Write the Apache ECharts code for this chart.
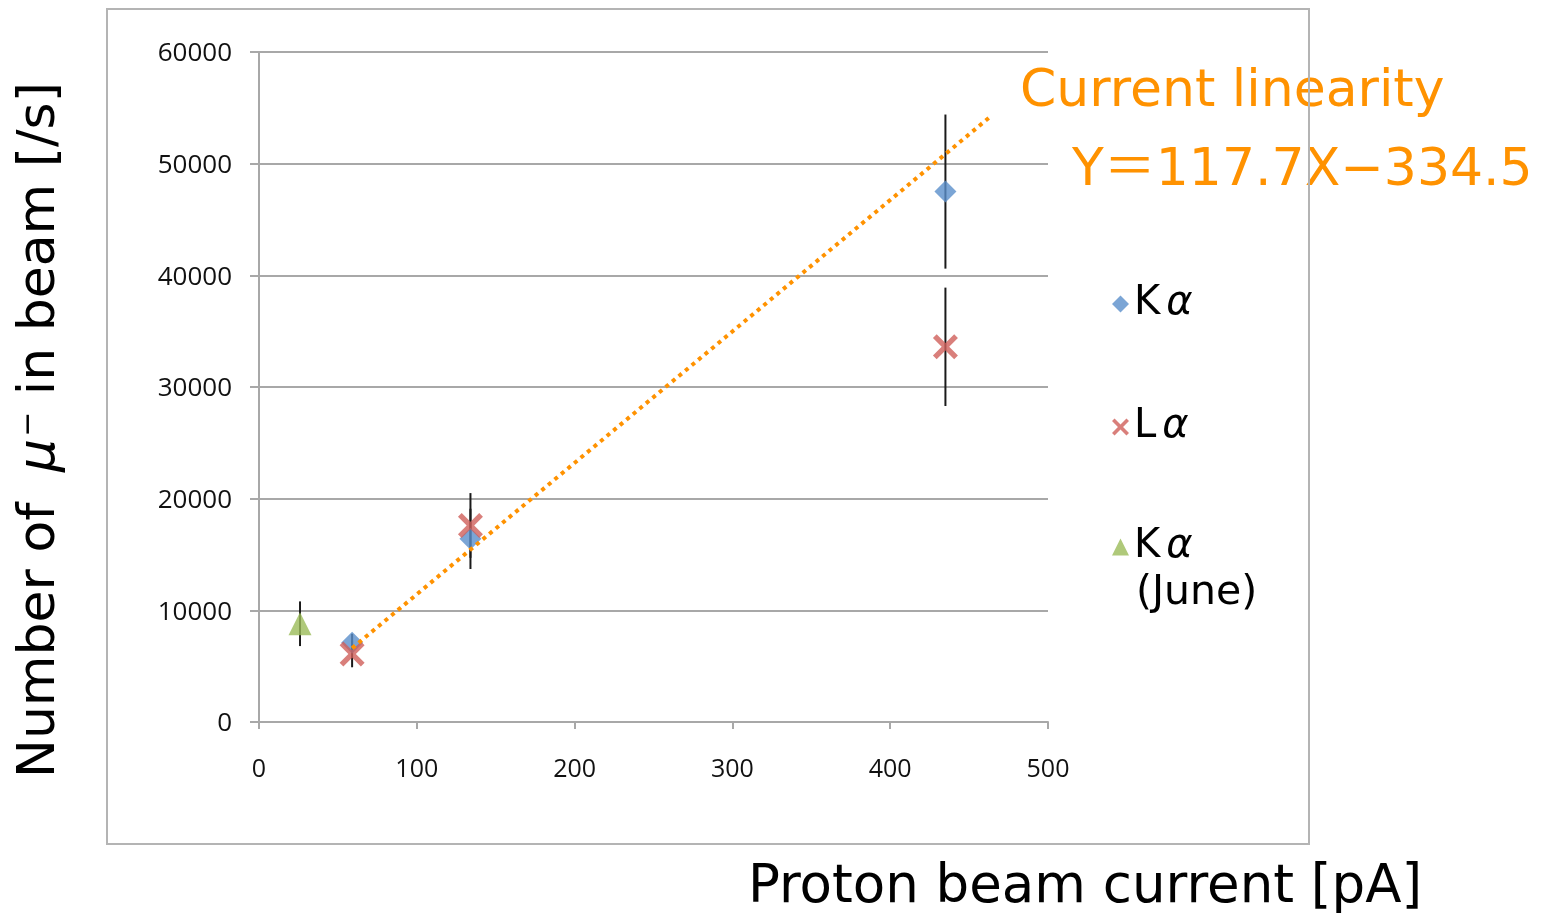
<!DOCTYPE html>
<html>
<head>
<meta charset="utf-8">
<script src="https://cdn.jsdelivr.net/npm/echarts@6/dist/echarts.min.js"></script>
<style>
html,body{margin:0;padding:0;background:#fff;}
#chart{width:1553px;height:914px;}
</style>
</head>
<body>
<div id="chart"></div>
<script>
// ---- data ----
const xMin = 0, xMax = 500, xInterval = 100;
const yMin = 0, yMax = 60000, yInterval = 10000;

const kaX = [59, 134, 435];
const kaY = [7100, 16400, 47500];
const kaErr = [800, 2700, 6900];

const laX = [59, 134, 435];
const laY = [6100, 17600, 33600];
const laErr = [1200, 2900, 5300];

const junX = [26];
const junY = [8800];
const junErr = [2000];

const fitX = [59, 463];
const fitY = [6610, 54160];

const names = ['Kα', 'Lα', 'Kα (June)'];
const colors = ['#5A8FCB', '#D05F5A', '#9BBB59'];

const xPath = 'path://M0,3 L3,0 L10,7 L17,0 L20,3 L13,10 L20,17 L17,20 L10,13 L3,20 L0,17 L7,10 Z';

function pts(xs, ys) { return xs.map((x, i) => [x, ys[i]]); }
function errPts(xs, ys, es) { return xs.map((x, i) => [x, ys[i] - es[i], ys[i] + es[i]]); }

const allErr = [].concat(errPts(kaX, kaY, kaErr), errPts(laX, laY, laErr), errPts(junX, junY, junErr));

const gray = '#a8a8a8';
const orange = '#FF9200';
const fontT = '"DejaVu Sans", "Noto Sans CJK JP", sans-serif';

const chart = echarts.init(document.getElementById('chart'));
const legendBase = {
  orient: 'vertical', left: 1112, padding: 0, itemWidth: 17, itemHeight: 17,
  textStyle: { fontFamily: fontT, fontSize: 40, color: '#000', lineHeight: 48,
    rich: { a: { fontFamily: fontT, fontSize: 40, fontStyle: 'italic', color: '#000', padding: [0, 0, 0, 6] } } },
  formatter: function (n) { return n.charAt(0) + '{a|α}'; },
  selectedMode: false
};
chart.setOption({
  animation: false,
  grid: { left: 259, right: 505, top: 52, bottom: 192 },
  xAxis: {
    type: 'value', min: xMin, max: xMax, interval: xInterval,
    axisLine: { show: true, lineStyle: { color: gray, width: 2 } },
    axisTick: { show: true, length: 7, lineStyle: { color: gray, width: 2 } },
    splitLine: { show: false },
    axisLabel: { fontFamily: '"Open Sans", sans-serif', fontSize: 25, color: '#111', margin: 35 }
  },
  yAxis: {
    type: 'value', min: yMin, max: yMax, interval: yInterval,
    axisLine: { show: true, lineStyle: { color: gray, width: 2 } },
    axisTick: { show: true, length: 9, lineStyle: { color: gray, width: 2 } },
    splitLine: { show: true, lineStyle: { color: gray, width: 2 } },
    axisLabel: { fontFamily: '"Open Sans", sans-serif', fontSize: 26, color: '#111', margin: 27,
      verticalAlign: 'top', lineHeight: 26, padding: [-11, 0, 0, 0],
      formatter: function (v) { return String(v); } }
  },
  legend: [
    Object.assign({}, legendBase, { top: 280, data: [names[0]] }),
    Object.assign({}, legendBase, { top: 403, data: [names[1]] }),
    Object.assign({}, legendBase, { top: 523, data: [names[2]] })
  ],
  graphic: [
    { type: 'rect', z: 100, shape: { x: 107, y: 9, width: 1202, height: 835 },
      style: { fill: 'none', stroke: '#b4b4b4', lineWidth: 2 } },
    { type: 'text', z: 50, x: 1136, y: 593,
      style: { text: '(June)', font: '41px ' + fontT, fill: '#000', verticalAlign: 'middle', align: 'left' } },
    { type: 'text', z: 50, x: 1020, y: 92,
      style: { text: 'Current linearity', font: '52px ' + fontT, fill: orange, verticalAlign: 'middle', align: 'left' } },
    { type: 'text', z: 50, x: 1072, y: 171,
      style: { text: 'Y＝117.7X−334.5', font: '52px ' + fontT, fill: orange, verticalAlign: 'middle', align: 'left' } },
    { type: 'text', z: 50, x: 1085, y: 888,
      style: { text: 'Proton beam current [pA]', font: '53px ' + fontT, fill: '#000', verticalAlign: 'middle', align: 'center' } },
    { type: 'text', z: 50, x: 40, y: 430, rotation: Math.PI / 2,
      style: { text: 'Number of {mu|μ}{sup|−} in beam [/s]', font: '52px ' + fontT, fill: '#000',
        verticalAlign: 'middle', align: 'center',
        rich: {
          mu: { fontFamily: fontT, fontSize: 52, fontStyle: 'italic', fill: '#000', padding: [0, 0, 0, 14] },
          sup: { fontFamily: fontT, fontSize: 30, fill: '#000', verticalAlign: 'top', padding: [0, 0, 18, 2] }
        } } }
  ],
  series: [
    {
      type: 'custom', name: 'err', z: 2, silent: true,
      data: allErr,
      renderItem: function (params, api) {
        const p1 = api.coord([api.value(0), api.value(1)]);
        const p2 = api.coord([api.value(0), api.value(2)]);
        return { type: 'line', shape: { x1: p1[0], y1: p1[1], x2: p2[0], y2: p2[1] },
          style: { stroke: '#1a1a1a', lineWidth: 2 } };
      }
    },
    { type: 'scatter', name: names[0], z: 3, symbol: 'diamond', symbolSize: 22,
      itemStyle: { color: colors[0] }, data: pts(kaX, kaY) },
    { type: 'scatter', name: names[1], z: 4, symbol: xPath, symbolSize: 25,
      itemStyle: { color: colors[1] }, data: pts(laX, laY) },
    { type: 'scatter', name: names[2], z: 3, symbol: 'triangle', symbolSize: 23,
      itemStyle: { color: colors[2] }, data: pts(junX, junY) },
    { type: 'line', name: 'fit', z: 6, showSymbol: false, symbol: 'none', silent: true,
      lineStyle: { color: orange, width: 4, type: [4, 4.5], cap: 'butt' },
      data: pts(fitX, fitY) }
  ]
});
</script>
</body>
</html>
